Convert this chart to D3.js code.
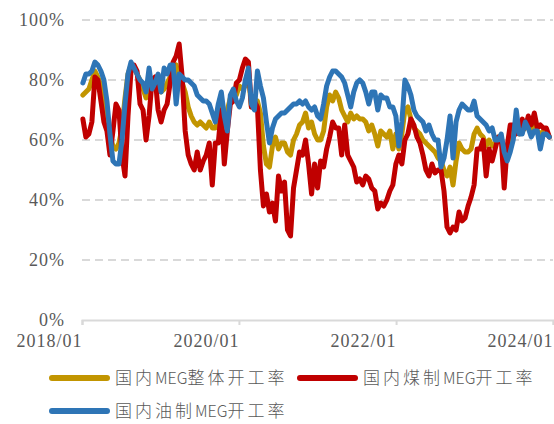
<!DOCTYPE html>
<html>
<head>
<meta charset="utf-8">
<script src="https://cdn.jsdelivr.net/npm/d3@7"></script>
<style>
  body { margin: 0; background: #fff; }
  svg { display: block; }
  .num { font-family: "Liberation Serif", "DejaVu Serif", serif; font-size: 18px; fill: #595959; letter-spacing: 1px; }
  .leg { font-family: "Noto Sans CJK SC", sans-serif; font-size: 17px; fill: #595959; font-weight: 300; }
</style>
</head>
<body>
<script>
// series sampled every 2 weeks, starting first week of 2018
const startDate = new Date(2018, 0, 5);
const stepWeeks = 2;

const overall = [75,76,77,80,83,81,78,73,68,62,58,57,59,64,74,82,85,84,82,80,
  77,74,77,78,80,79,76,77,79,81,84,85,81,79,76,71,68,66,65,66,
  65,64,66,64,64,67,71,66,70,74,73,75,78,77,78,82,71,72,73,69,
  58,52,51,58,61,57,59,59,56,55,60,62,65,66,69,64,66,62,60,60,
  63,71,75,73,76,74,70,68,66,69,67,68,67,67,66,63,65,62,58,63,
  62,61,63,57,62,57,62,70,71,67,64,63,62,60,59,58,57,56,54,53,
  50,48,51,45,53,59,57,56,56,57,62,64,62,61,58,60,58,59,61,61,
  55,56,60,63,66,62,63,64,65,62,65,63,62,63,63,61];

const coal = [67,61,62,66,81,80,73,66,63,55,63,72,70,55,48,68,83,85,83,72,
  70,60,68,80,81,70,66,70,72,79,86,88,92,81,63,55,52,50,56,50,
  53,55,59,45,59,59,70,52,63,72,73,79,80,84,87,86,71,73,71,50,
  38,42,36,39,33,48,43,46,30,28,44,50,56,55,60,52,42,52,44,53,
  51,57,61,66,64,64,55,65,55,53,51,46,47,45,48,47,44,43,37,39,
  38,40,43,45,52,55,52,60,62,67,65,61,59,55,50,48,52,49,50,50,
  43,31,29,31,30,36,33,34,38,41,45,57,57,60,48,57,53,57,61,61,
  44,58,65,65,62,64,67,64,68,65,69,64,65,64,64,61];

const oil = [79,82,82,83,86,85,83,80,73,62,53,52,52,60,72,82,86,84,82,80,
  79,76,84,77,79,82,76,84,82,85,85,72,82,81,80,80,79,78,75,74,
  73,73,72,69,66,72,76,68,63,75,77,73,71,74,80,84,72,70,83,78,
  74,66,59,64,67,68,69,69,70,71,72,72,73,72,73,71,70,71,68,67,
  72,78,81,83,83,82,81,79,75,71,76,79,80,79,76,72,76,76,70,75,
  74,74,71,71,68,58,66,80,78,75,70,68,67,66,63,65,62,60,60,51,
  54,60,68,54,66,70,72,71,70,70,73,68,67,66,65,63,64,60,60,62,
  56,53,56,60,70,62,62,66,64,61,63,63,57,62,62,61];

// legend labels split so the latin part stays compact
const seriesNames = [['国内', 'MEG', '整体开工率'], ['国内煤制', 'MEG', '开工率'], ['国内油制', 'MEG', '开工率']];
const seriesColors = ['#C29500', '#C00000', '#2E75B6'];
const yTicks = [0, 20, 40, 60, 80, 100];
const xTickDates = [new Date(2018, 0, 1), new Date(2020, 0, 1), new Date(2022, 0, 1), new Date(2024, 0, 1)];

const width = 554;
const height = 424;
const margin = { top: 20, right: 1, bottom: 104, left: 82 };

const svg = d3.select('body')
  .append('svg')
  .attr('width', width)
  .attr('height', height);

const x = d3.scaleTime()
  .domain([xTickDates[0], xTickDates[3]])
  .range([margin.left, width - margin.right]);

const y = d3.scaleLinear()
  .domain([0, 100])
  .range([height - margin.bottom, margin.top]);

// dashed grid
svg.append('g')
  .selectAll('line')
  .data(yTicks.filter(d => d > 0))
  .join('line')
  .attr('x1', margin.left)
  .attr('x2', width - margin.right)
  .attr('y1', d => y(d))
  .attr('y2', d => y(d))
  .attr('stroke', '#d9d9d9')
  .attr('stroke-width', 2)
  .attr('stroke-dasharray', '8,5');

// y labels
svg.append('g')
  .selectAll('text')
  .data(yTicks)
  .join('text')
  .attr('class', 'num')
  .attr('x', 65)
  .attr('y', d => y(d) + 6)
  .attr('text-anchor', 'end')
  .text(d => d + '%');

// x axis
const xAxis = d3.axisBottom(x)
  .tickValues(xTickDates)
  .tickSize(5)
  .tickFormat(d3.timeFormat('%Y/%m'));

const gx = svg.append('g')
  .attr('transform', `translate(0,${y(0)})`)
  .call(xAxis)
  .attr('font-family', null)
  .attr('font-size', null);
gx.select('.domain').attr('stroke', '#d9d9d9').attr('stroke-width', 2);
gx.selectAll('.tick line').attr('stroke', '#d9d9d9').attr('stroke-width', 2);
gx.selectAll('.tick text')
  .attr('class', 'num')
  .attr('fill', null)
  .attr('text-anchor', 'end')
  .attr('dy', null)
  .attr('y', 27);

// lines
const dates = overall.map((d, i) => d3.timeWeek.offset(startDate, i * stepWeeks));
const line = d3.line()
  .x((d, i) => x(dates[i]))
  .y(d => y(d));

svg.append('g')
  .selectAll('path')
  .data([overall, coal, oil])
  .join('path')
  .attr('d', line)
  .attr('fill', 'none')
  .attr('stroke', (d, i) => seriesColors[i])
  .attr('stroke-width', 5)
  .attr('stroke-linejoin', 'round')
  .attr('stroke-linecap', 'round');

// legend
const legendPos = [[52, 378], [300, 378], [52, 411]];
const items = svg.append('g')
  .selectAll('g')
  .data(seriesNames)
  .join('g')
  .attr('transform', (d, i) => `translate(${legendPos[i][0]},${legendPos[i][1]})`);

items.append('line')
  .attr('x1', 0)
  .attr('x2', 55)
  .attr('stroke', (d, i) => seriesColors[i])
  .attr('stroke-width', 6)
  .attr('stroke-linecap', 'round');

const txt = items.append('text')
  .attr('class', 'leg')
  .attr('x', 63)
  .attr('y', 6);

txt.selectAll('tspan')
  .data(d => d)
  .join('tspan')
  .attr('letter-spacing', (d, i) => i === 1 ? 0 : 3)
  .attr('font-size', (d, i) => i === 1 ? 16 : null)
  .text(d => d);
</script>
</body>
</html>
